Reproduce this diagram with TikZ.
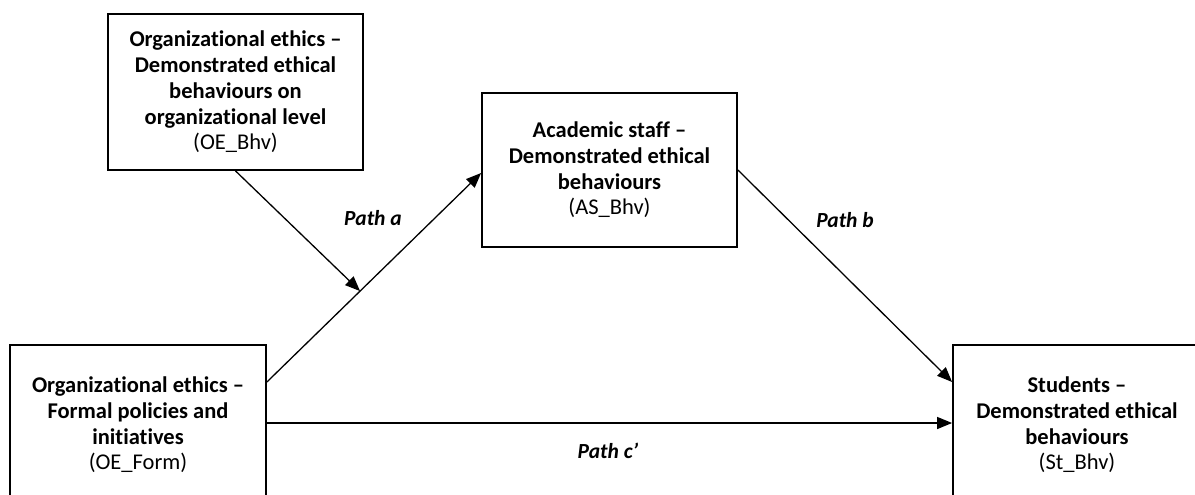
\documentclass[tikz,border=0pt]{standalone}
\usepackage{fontspec}
\setmainfont[Ligatures=NoCommon,RawFeature=-liga]{Carlito}
\usetikzlibrary{arrows.meta}
\begin{document}
\begin{tikzpicture}[x=1pt,y=-1pt,
  box/.style={draw, line width=1.8pt, inner sep=0pt, align=center, fill=white,
    font=\fontsize{22.5}{25.7}\selectfont},
  conn/.style={line width=1.3pt, -{Triangle[length=15pt,width=12pt]}},
  lbl/.style={font=\fontsize{21.5}{24}\selectfont\bfseries\itshape}]
\useasboundingbox (0,0) rectangle (1195,495);
\fill[white] (0,0) rectangle (1195,495);
\node[box, minimum width=255pt, minimum height=156pt] (oebhv) at (235.5,92)
  {\textbf{Organizational ethics –}\\\textbf{Demonstrated ethical}\\\textbf{behaviours on}\\\textbf{organizational level}\\(OE\_Bhv)};
\node[box, minimum width=255pt, minimum height=154pt] (asbhv) at (609.5,170)
  {\textbf{Academic staff –}\\\textbf{Demonstrated ethical}\\\textbf{behaviours}\\(AS\_Bhv)};
\node[box, minimum width=256pt, minimum height=160pt] (oeform) at (138,425)
  {\textbf{Organizational ethics –}\\\textbf{Formal policies and}\\\textbf{initiatives}\\(OE\_Form)};
\node[box, minimum width=248pt, minimum height=160pt] (stbhv) at (1077,425)
  {\textbf{Students –}\\\textbf{Demonstrated ethical}\\\textbf{behaviours}\\(St\_Bhv)};
\draw[conn] ([yshift=43pt]oeform.east) -- ([yshift=-3pt]asbhv.west) coordinate[pos=0.435] (amid);
\draw[conn] (oebhv.south) -- (amid);
\draw[conn] (asbhv.east) -- ([yshift=43pt]stbhv.west);
\draw[conn] ([yshift=2pt]oeform.east) -- ([yshift=2pt]stbhv.west);
\node[lbl] (la) at (373,218) {Path a};
\node[lbl] (lb) at (845,220) {Path b};
\node[lbl] (lc) at (608,451) {Path c’};
\end{tikzpicture}
\end{document}
